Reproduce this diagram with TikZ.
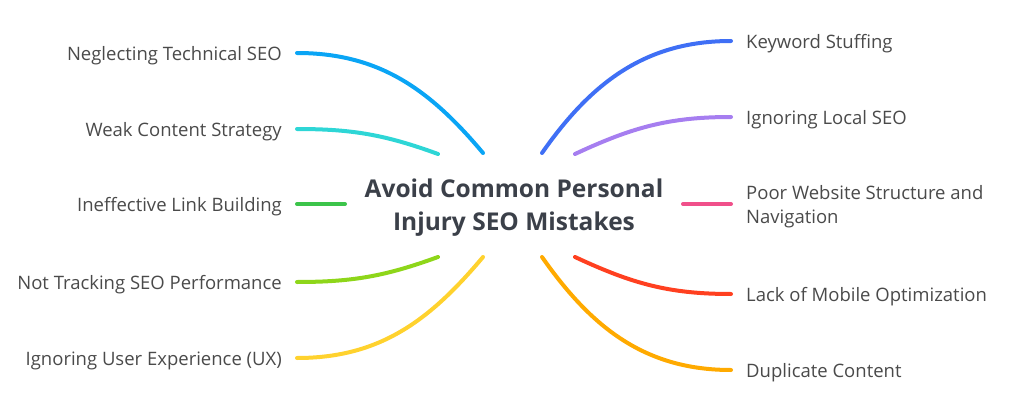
\documentclass[tikz,border=0pt]{standalone}
\usepackage{fontspec}
\setmainfont{Open Sans}
\usetikzlibrary{positioning}

\definecolor{txtgray}{HTML}{4A4A4A}
\definecolor{titlegray}{HTML}{3B4049}
\definecolor{cblue}{HTML}{0AA5F5}
\definecolor{ccyan}{HTML}{2ED6D6}
\definecolor{cgreen}{HTML}{3CC44A}
\definecolor{clime}{HTML}{8ED61A}
\definecolor{cyellow}{HTML}{FFD22E}
\definecolor{croyal}{HTML}{3F6FF5}
\definecolor{cpurple}{HTML}{A67EF0}
\definecolor{cpink}{HTML}{F0508A}
\definecolor{cred}{HTML}{FF4020}
\definecolor{corange}{HTML}{FFAA00}

\tikzset{
  topic/.style={font=\bfseries\fontsize{24.5}{33}\selectfont, text=titlegray, align=center, inner sep=0pt},
  item/.style={font=\fontsize{18.5}{24}\selectfont, text=txtgray, inner xsep=15pt, inner ysep=0pt},
  leftitem/.style={item, anchor=east, text height=19pt, text depth=4.5pt},
  rightitem/.style={item, anchor=west, text height=19pt, text depth=4.5pt},
  rightwrap/.style={item, anchor=west, align=left},
  branch/.style={line width=4pt, line cap=round},
}

\begin{document}
\begin{tikzpicture}[x=1pt, y=1pt]
  \useasboundingbox (0,0) rectangle (1019,413);

  % Nodes
  \node[topic]                 (root) at (514,205) {Avoid Common Personal\\Injury SEO Mistakes};
  \node[leftitem]              (tech) at (297,360) {Neglecting Technical SEO};
  \node[leftitem]              (cont) at (297,284) {Weak Content Strategy};
  \node[leftitem]              (link) at (297,209) {Ineffective Link Building};
  \node[leftitem]              (track) at (297,131) {Not Tracking SEO Performance};
  \node[leftitem]              (ux) at (297,55) {Ignoring User Experience (UX)};
  \node[rightitem]             (kw) at (731,372) {Keyword Stuffing};
  \node[rightitem]             (local) at (731,296) {Ignoring Local SEO};
  \node[rightwrap]             (web) at (731,206) {Poor Website Structure and\\Navigation};
  \node[rightitem]             (mob) at (731,119) {Lack of Mobile Optimization};
  \node[rightitem]             (dup) at (731,43) {Duplicate Content};

  % Branch roots
  \coordinate (rtech) at (483,260);
  \coordinate (rcont) at (438,259);
  \coordinate (rlink) at (345,209);
  \coordinate (rtrack) at (438,156);
  \coordinate (rux) at (483,156);
  \coordinate (rkw) at (542,260);
  \coordinate (rlocal) at (575,259);
  \coordinate (rweb) at (683,209);
  \coordinate (rmob) at (575,156);
  \coordinate (rdup) at (542,156);

  % Edges
  \draw[branch, cblue]   (rtech) to[out=130, in=0] (tech.east);
  \draw[branch, ccyan]   (rcont) to[out=160, in=0] (cont.east);
  \draw[branch, cgreen]  (rlink) -- (link.east);
  \draw[branch, clime]   (rtrack) to[out=200, in=0] (track.east);
  \draw[branch, cyellow] (rux) to[out=230, in=0] (ux.east);
  \draw[branch, croyal]  (rkw) to[out=55, in=180] (kw.west);
  \draw[branch, cpurple] (rlocal) to[out=25, in=180] (local.west);
  \draw[branch, cpink]   (rweb) -- (rweb -| web.west);
  \draw[branch, cred]    (rmob) to[out=-25, in=180] (mob.west);
  \draw[branch, corange] (rdup) to[out=-55, in=180] (dup.west);
\end{tikzpicture}
\end{document}
